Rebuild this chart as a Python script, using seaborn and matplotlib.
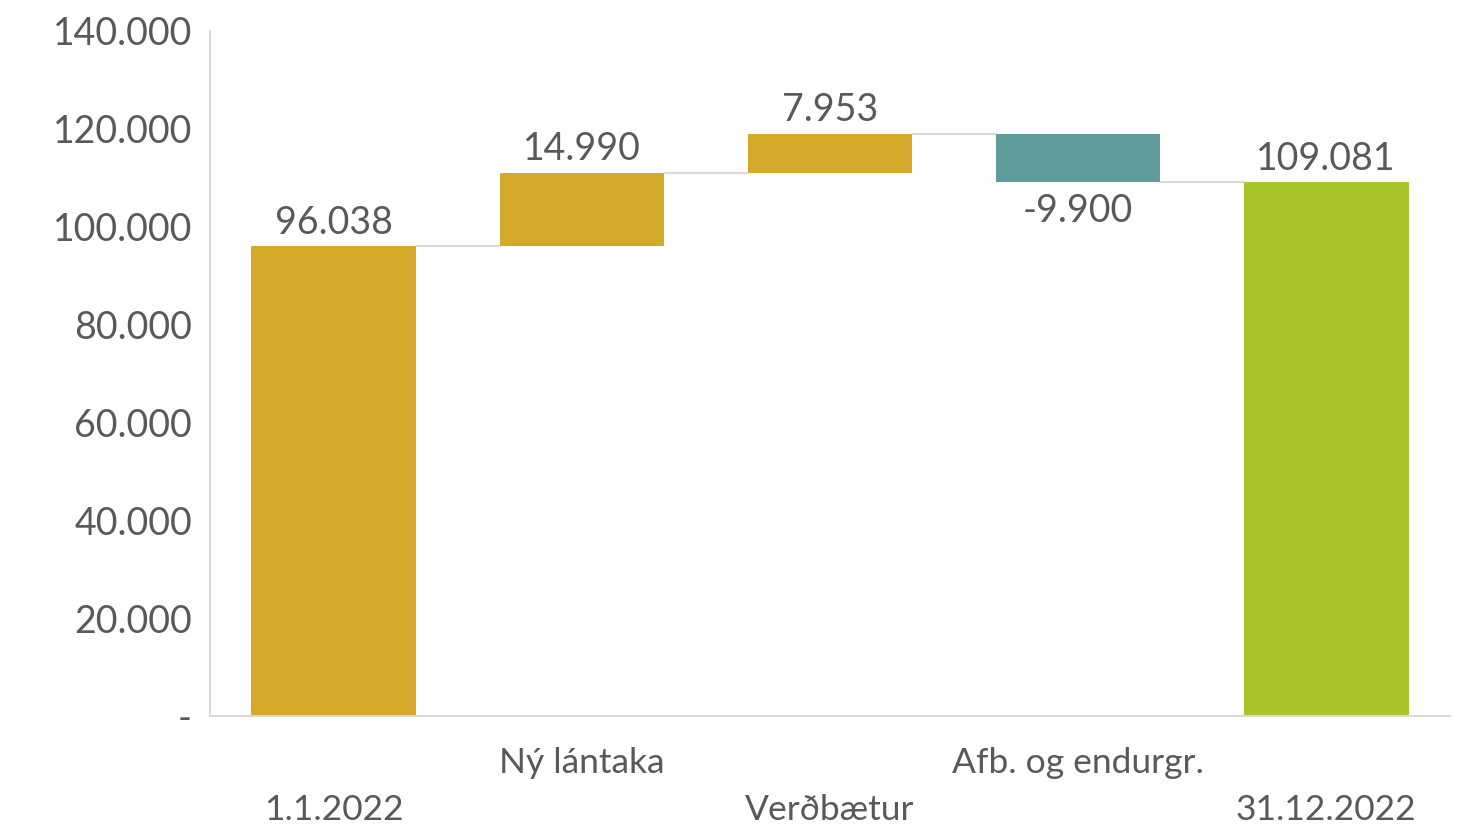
import numpy as np
import pandas as pd
import matplotlib
matplotlib.use('Agg')
import matplotlib.pyplot as plt
import matplotlib.ticker as mticker
import seaborn as sns

sns.set_style('white')
plt.rcParams['font.family'] = ['Lato', 'DejaVu Sans']

# data
flokkar = ['1.1.2022', 'Ný lántaka', 'Verðbætur', 'Afb. og endurgr.', '31.12.2022']
breyting = [96038, 14990, 7953, -9900, 109081]
er_samtala = [True, False, False, False, True]
litir = ['#D4A92A', '#D4A92A', '#D4A92A', '#5F9C9B', '#A9C42A']

TXT = '#595959'
GRAY = '#D9D9D9'

# running totals for waterfall
botn, haed, stada = [], [], 0
for v, tot in zip(breyting, er_samtala):
    if tot:
        botn.append(0)
        haed.append(v)
        stada = v
    else:
        botn.append(stada if v >= 0 else stada + v)
        haed.append(abs(v))
        stada += v
df = pd.DataFrame({'flokkur': flokkar, 'haed': haed, 'botn': botn})

fig = plt.figure(figsize=(14.65, 8.26), dpi=100)
ax = fig.add_axes([0.1433, 0.1332, 0.8465, 0.8293])

sns.barplot(data=df, x='flokkur', y='haed', bottom=df['botn'].values, order=flokkar,
            color=litir[0], width=0.665, linewidth=0, saturation=1, ax=ax)
for p, c in zip(ax.patches, litir):
    p.set_facecolor(c)

# connectors
bw = 0.665
levels = []
run = 0
for v, tot in zip(breyting, er_samtala):
    run = v if tot else run + v
    levels.append(run)
for i in range(len(flokkar) - 1):
    ax.plot([i + bw / 2, i + 1 - bw / 2], [levels[i], levels[i]], color=GRAY, lw=1.5, zorder=0)

# value labels
def fmt(v):
    s = f'{abs(v):,}'.replace(',', '.')
    return ('-' if v < 0 else '') + s

for i, (v, b, h) in enumerate(zip(breyting, botn, haed)):
    if v >= 0:
        ax.annotate(fmt(v), (i, b + h), xytext=(0, 4), textcoords='offset points',
                    ha='center', va='bottom', fontsize=27, color=TXT)
    else:
        ax.annotate(fmt(v), (i, b), xytext=(0, -8), textcoords='offset points',
                    ha='center', va='top', fontsize=27, color=TXT)

ax.set_ylim(0, 140000)
ax.set_xlim(-0.5, len(flokkar) - 0.5)
ax.yaxis.set_major_locator(mticker.MultipleLocator(20000))
ax.yaxis.set_major_formatter(mticker.FuncFormatter(lambda v, p: '-' if v == 0 else f'{int(v):,}'.replace(',', '.')))
ax.set_xticks(range(len(flokkar)))
ax.set_xticklabels([('\n' + f) if i % 2 == 0 else f for i, f in enumerate(flokkar)], linespacing=1.6)
ax.tick_params(axis='both', length=0, labelcolor=TXT)
ax.tick_params(axis='y', pad=13, labelsize=27)
ax.tick_params(axis='x', pad=22, labelsize=25.5)
ax.set_xlabel('')
ax.set_ylabel('')

for s in ['top', 'right']:
    ax.spines[s].set_visible(False)
for s in ['left', 'bottom']:
    ax.spines[s].set_color(GRAY)
    ax.spines[s].set_linewidth(1.5)

fig.savefig('out.png', dpi=100)
